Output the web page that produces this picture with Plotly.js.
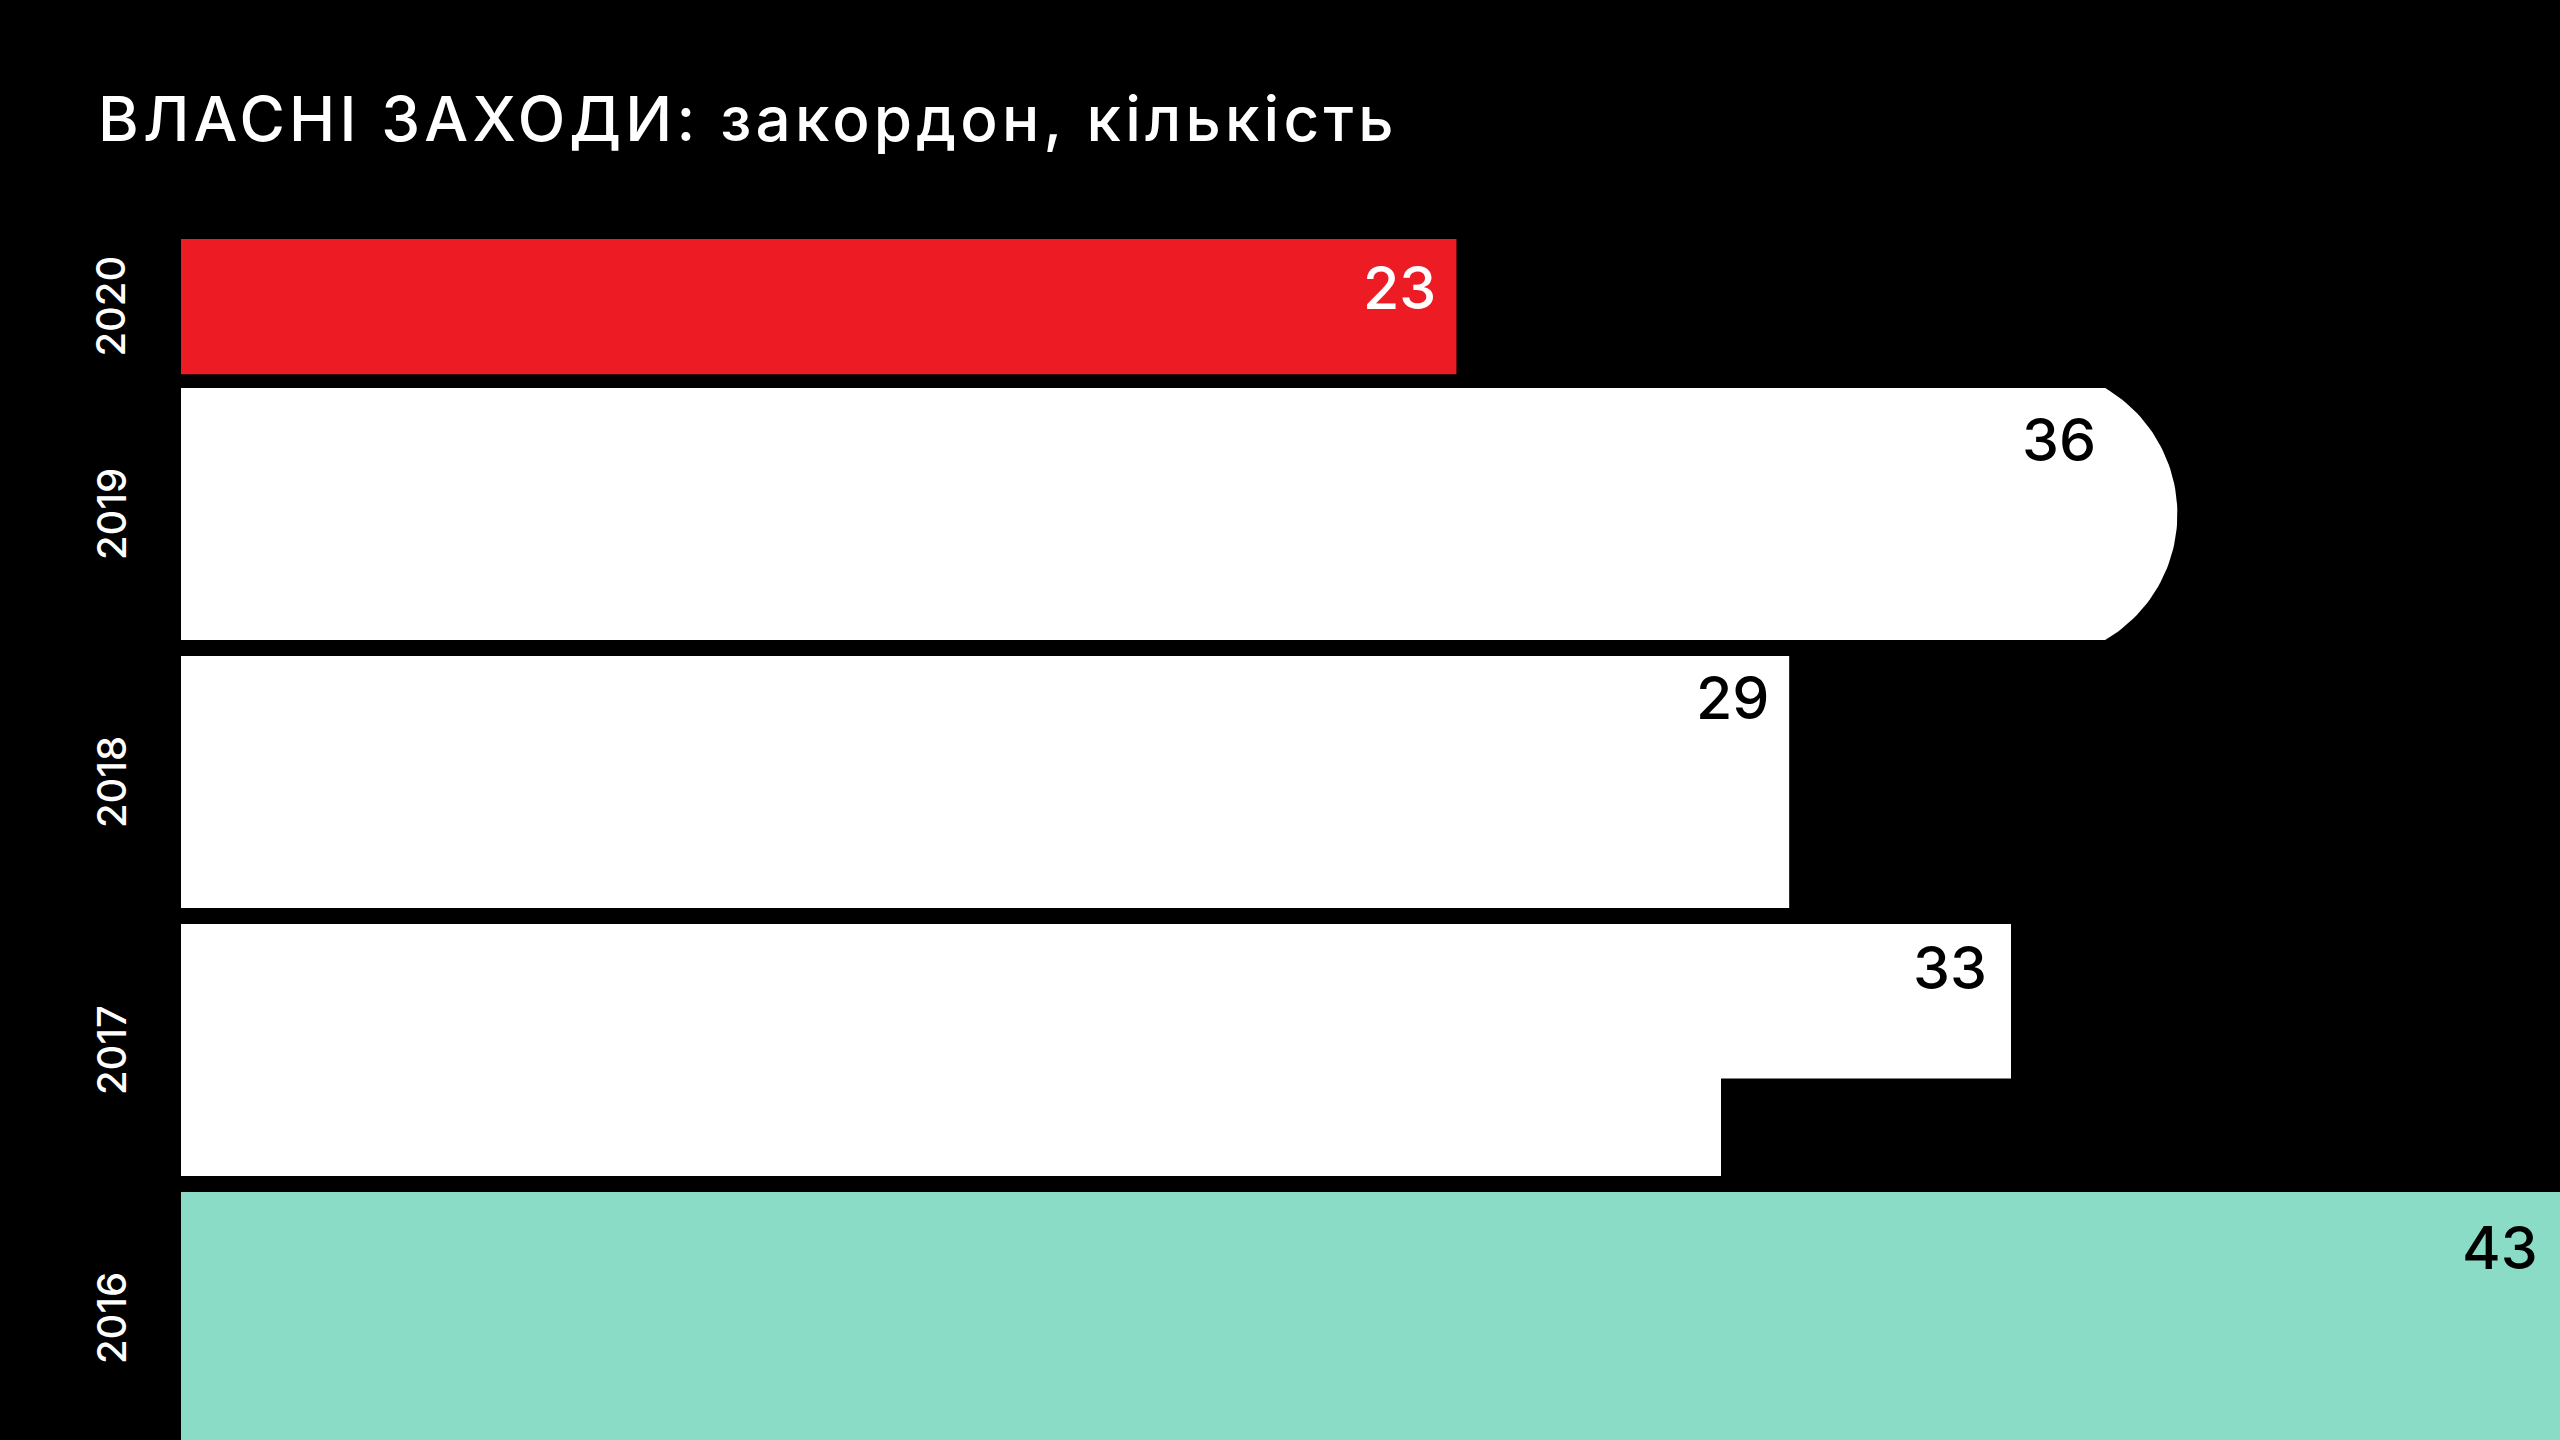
<!DOCTYPE html>
<html>
<head>
<meta charset="utf-8">
<script src="https://cdn.plot.ly/plotly-3.0.1.min.js"></script>
<style>
  html, body { margin: 0; padding: 0; background: #000; }
  #chart { width: 2560px; height: 1440px; }
</style>
</head>
<body>
<div id="chart"></div>
<script>
// ---- data ----
const years = ['2020', '2019', '2018', '2017', '2016'];
const counts = [23, 36, 29, 33, 43];
const titleText = 'ВЛАСНІ ЗАХОДИ: закордон, кількість';

// ---- styles ----
const barColors = ['#ED1C24', '#FFFFFF', '#FFFFFF', '#FFFFFF', '#8BDCC6'];
const labelColors = ['#FFFFFF', '#000000', '#000000', '#000000', '#000000'];
const barShapes = ['rect', 'round', 'rect', 'step', 'rect'];
const LABEL_TOP_PAD = [28, 31, 21, 23, 35];   // px from bar top to digit top
const LABEL_RIGHT_PAD = [25, 14, 24, 29, 33]; // px from bar end to text end

// ---- layout geometry ----
const W = 2560, H = 1440;
const M = { l: 181, r: 0, t: 0, b: 0 };
const X_RANGE = [0, 42.9];
const Y_RANGE = [-0.455, 4.918];
const ROW_POS = [3.774, 3, 2, 1, 0];
const ROW_W = [0.504, 0.94, 0.94, 0.94, 0.94];
const pxX = (W - M.l - M.r) / (X_RANGE[1] - X_RANGE[0]);
const pxY = (H - M.t - M.b) / (Y_RANGE[1] - Y_RANGE[0]);
const ROUND_R = 146;      // px radius of rounded end
const STEP_FRAC = 0.613;  // fraction of height where the step occurs
const STEP_NOTCH = 290;   // px width of the notch
const FONT = 'Inter, "Open Sans", Roboto, sans-serif';

const traces = [];
const annotations = [];

// rectangular bars through a bar trace
const rectIdx = years.map((_, i) => i).filter(i => barShapes[i] === 'rect');
traces.push({
  type: 'bar',
  orientation: 'h',
  x: rectIdx.map(i => counts[i]),
  y: rectIdx.map(i => ROW_POS[i]),
  width: rectIdx.map(i => ROW_W[i]),
  marker: { color: rectIdx.map(i => barColors[i]), line: { width: 0 } },
  hoverinfo: 'skip',
  showlegend: false
});

years.forEach((yr, i) => {
  const v = counts[i];
  const pos = ROW_POS[i];
  const top = pos + ROW_W[i] / 2;
  const bot = pos - ROW_W[i] / 2;
  let lx = v;
  if (barShapes[i] === 'round') {
    const h = ROW_W[i] / 2 * pxY;
    const tmax = Math.asin(Math.min(1, h / ROUND_R));
    const xs = [0], ys = [top];
    const n = 60;
    for (let k = 0; k <= n; k++) {
      const t = tmax - (2 * tmax) * k / n;
      xs.push(v - (ROUND_R - ROUND_R * Math.cos(t)) / pxX);
      ys.push(pos + ROUND_R * Math.sin(t) / pxY);
    }
    xs.push(0); ys.push(bot);
    xs.push(0); ys.push(top);
    traces.push({
      type: 'scatter', mode: 'lines', x: xs, y: ys, fill: 'toself',
      fillcolor: barColors[i], line: { width: 0, color: barColors[i] },
      hoverinfo: 'skip', showlegend: false
    });
    lx = v - (ROUND_R - ROUND_R * Math.cos(tmax)) / pxX;
  } else if (barShapes[i] === 'step') {
    const stepY = top - STEP_FRAC * ROW_W[i];
    const notch = STEP_NOTCH / pxX;
    traces.push({
      type: 'scatter', mode: 'lines',
      x: [0, v, v, v - notch, v - notch, 0, 0],
      y: [top, top, stepY, stepY, bot, bot, top],
      fill: 'toself', fillcolor: barColors[i],
      line: { width: 0, color: barColors[i] },
      hoverinfo: 'skip', showlegend: false
    });
  }
  // value label near top-right of the bar (kept inside visible range)
  let xshift = -(LABEL_RIGHT_PAD[i] - 7);
  if (lx > X_RANGE[1]) {
    xshift += (lx - X_RANGE[1]) * pxX;
    lx = X_RANGE[1];
  }
  annotations.push({
    x: lx, y: top, xref: 'x', yref: 'y',
    xanchor: 'right', yanchor: 'middle',
    xshift: xshift, yshift: -(LABEL_TOP_PAD[i] + 20),
    text: String(v), showarrow: false,
    font: { family: FONT, size: 59, color: labelColors[i], weight: 500 }
  });
  // year label, rotated
  annotations.push({
    x: -70 / (W - M.l - M.r), y: pos, xref: 'paper', yref: 'y',
    xanchor: 'center', yanchor: 'middle', textangle: -90,
    text: yr, showarrow: false,
    font: { family: FONT, size: 40, color: '#FFFFFF', weight: 500 }
  });
});

const layout = {
  width: W, height: H,
  margin: M,
  paper_bgcolor: '#000000',
  plot_bgcolor: '#000000',
  showlegend: false,
  barmode: 'overlay',
  title: {
    text: '<span style="letter-spacing:4.2px">' + titleText + '</span>',
    x: 98 / W, xanchor: 'left', xref: 'container',
    y: 1 - 119 / H, yanchor: 'middle', yref: 'container',
    font: { family: FONT, size: 62, color: '#FFFFFF', weight: 500 }
  },
  xaxis: { range: X_RANGE, visible: false, fixedrange: true },
  yaxis: { range: Y_RANGE, visible: false, fixedrange: true },
  annotations: annotations
};

Plotly.newPlot('chart', traces, layout, { displayModeBar: false, staticPlot: true });
</script>
</body>
</html>
